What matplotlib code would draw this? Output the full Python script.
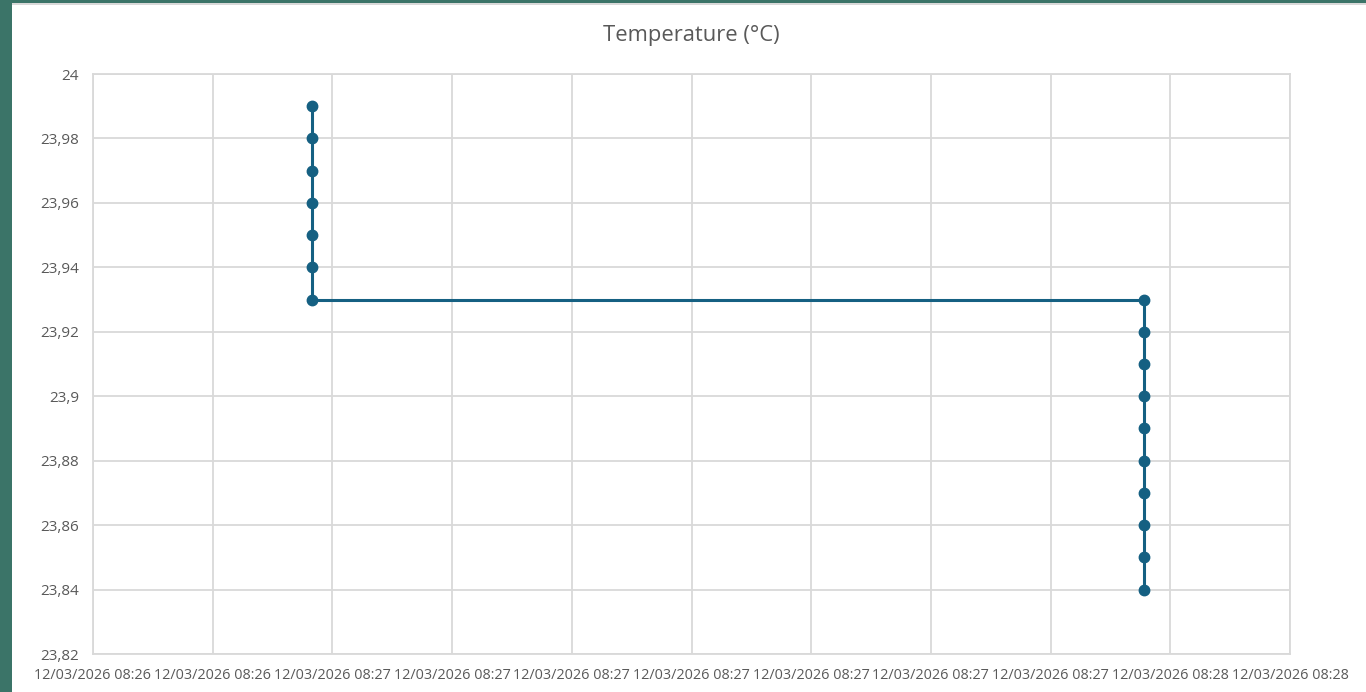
import pandas as pd
import matplotlib
matplotlib.use("Agg")
import matplotlib.pyplot as plt
import matplotlib.dates as mdates
from matplotlib.patches import Rectangle
from matplotlib.ticker import FuncFormatter, MultipleLocator

# data
times = ["2026-03-12 08:27:00"] * 7 + ["2026-03-12 08:28:00"] * 10
temps = [23.99, 23.98, 23.97, 23.96, 23.95, 23.94, 23.93,
         23.93, 23.92, 23.91, 23.90, 23.89, 23.88, 23.87, 23.86, 23.85, 23.84]

# excel-style axis: min 0.3519 day, major unit 0.0001 day
x_start = pd.Timestamp("2026-03-12") + pd.Timedelta(days=0.3519)
x_step = pd.Timedelta(days=0.0001)
n_ticks = 11

plt.rcParams["font.family"] = ["Open Sans", "DejaVu Sans"]
grey = "#595959"
blue = "#156082"

fig = plt.figure(figsize=(13.66, 6.92), dpi=100, facecolor="#3b7468")
fig.patches.append(Rectangle((12 / 1366, 0), 1, (692 - 5) / 692, transform=fig.transFigure,
                             facecolor="white", edgecolor="none", zorder=-10))
fig.patches.append(Rectangle((12 / 1366, (692 - 5) / 692), 1, 2 / 692, transform=fig.transFigure,
                             facecolor="#d9d9d9", edgecolor="none", zorder=-10))

ax = fig.add_axes([93 / 1366, 38 / 692, (1290 - 93) / 1366, (654 - 74) / 692])
ax.set_zorder(5)
ax.set_facecolor("white")

x = mdates.date2num(pd.to_datetime(times))
ax.plot(x, temps, color=blue, lw=2.2, marker="o", ms=7.5, zorder=3)

tick_pos = [mdates.date2num(x_start + i * x_step) for i in range(n_ticks)]
ax.set_xlim(tick_pos[0], tick_pos[-1])
ax.set_xticks(tick_pos)
ax.xaxis.set_major_formatter(mdates.DateFormatter("%d/%m/%Y %H:%M"))

ax.set_ylim(23.82, 24.0)
ax.yaxis.set_major_locator(MultipleLocator(0.02))
ax.yaxis.set_major_formatter(FuncFormatter(lambda v, p: f"{v:.2f}".rstrip("0").rstrip(".").replace(".", ",")))

ax.grid(True, color="#d9d9d9", lw=1.3)
ax.set_axisbelow(True)
for s in ax.spines.values():
    s.set_color("#d9d9d9")
    s.set_linewidth(1.3)
ax.tick_params(length=0, colors=grey)
ax.tick_params(axis="x", labelsize=10.4, pad=10)
ax.tick_params(axis="y", labelsize=11, pad=10)

fig.text(691 / 1366, 1 - 35 / 692, "Temperature (°C)", ha="center", va="center",
         fontsize=15.8, color=grey)

fig.savefig("out.png", dpi=100, facecolor=fig.get_facecolor())
